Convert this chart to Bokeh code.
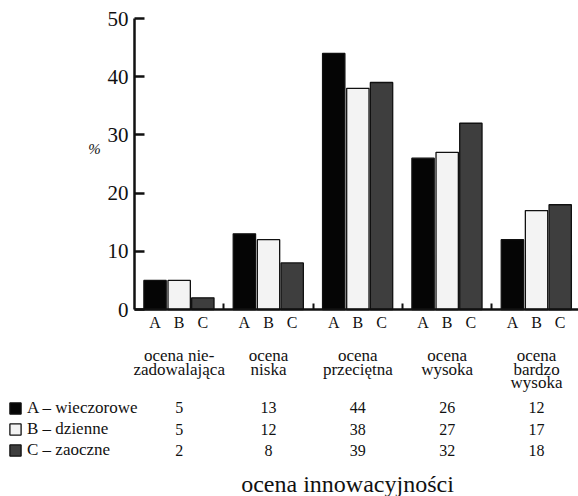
from bokeh.plotting import figure
from bokeh.models import (Range1d, FixedTicker, ColumnDataSource, LinearAxis,
                          Legend, LegendItem)
from bokeh.core.properties import value
from bokeh.embed import file_html
from bokeh.resources import INLINE

# ---- data ----
groups = ["ocena nie-\nzadowalająca", "ocena\nniska", "ocena\nprzeciętna",
          "ocena\nwysoka", "ocena\nbardzo\nwysoka"]
letters = ["A", "B", "C"]
series_names = ["A – wieczorowe", "B – dzienne", "C – zaoczne"]
wieczorowe = [5, 13, 44, 26, 12]
dzienne = [5, 12, 38, 27, 17]
zaoczne = [2, 8, 39, 32, 18]
y_ticks = [0, 10, 20, 30, 40, 50]
x_title = "ocena innowacyjności"
y_title = "%"

series = [wieczorowe, dzienne, zaoczne]
fills = ["#050505", "#f3f3f3", "#3e3e3e"]
offsets = [-0.27, 0.0, 0.265]
FNAME = "'Liberation Serif', serif"
FONT = value(FNAME)
W, H = 578, 496
X0, Y0 = 134, 309          # pixel position of the origin
PXX = 89.34                # pixels per group
PXY = 291 / 50.0           # pixels per percent

def xv(px):
    return (px - X0) / PXX

def yv(py):
    return (Y0 - py) / PXY

p = figure(width=W, height=H, x_range=Range1d(xv(0), xv(W)), y_range=Range1d(yv(H), yv(0)),
           output_backend="svg", toolbar_location=None,
           x_axis_type=None, y_axis_type=None,
           min_border_left=0, min_border_right=0, min_border_top=0, min_border_bottom=0)
p.outline_line_color = None
p.xgrid.visible = False
p.ygrid.visible = False

centers = [i + 0.5 for i in range(len(groups))]
renderers = []
for vals, fc, off in zip(series, fills, offsets):
    src = ColumnDataSource(dict(x=[c + off for c in centers], top=vals))
    r = p.vbar(x="x", top="top", width=0.25, bottom=0, source=src,
               fill_color=fc, line_color="#111111", line_width=1.3)
    renderers.append(r)

# y axis
ya = LinearAxis(fixed_location=0, bounds=(0, 50), ticker=FixedTicker(ticks=y_ticks))
ya.axis_line_width = 2.5
ya.major_tick_line_width = 2.5
ya.major_tick_in = 10
ya.major_tick_out = 0
ya.minor_tick_line_color = None
ya.major_label_text_font = FNAME
ya.major_label_text_font_size = "21px"
ya.major_label_text_color = "#111111"
ya.major_label_standoff = 6
ya.axis_line_color = "#111111"
ya.major_tick_line_color = "#111111"
p.add_layout(ya, "left")

# x axis (baseline with small separators)
xa = LinearAxis(fixed_location=0, bounds=(0, xv(W)), ticker=FixedTicker(ticks=[1, 2, 3, 4]))
xa.axis_line_width = 2.4
xa.axis_line_color = "#111111"
xa.major_tick_line_width = 2
xa.major_tick_line_color = "#111111"
xa.major_tick_in = 6
xa.major_tick_out = 0
xa.minor_tick_line_color = None
xa.major_label_text_color = None
p.add_layout(xa, "below")

# letters under bars
lx, lt = [], []
for c in centers:
    for off, l in zip(offsets, letters):
        lx.append(c + off)
        lt.append(l)
p.text(x="x", y="y", text="t",
       source=ColumnDataSource(dict(x=lx, y=[yv(322)] * len(lx), t=lt)),
       text_font=FONT, text_font_size="16px", text_align="center",
       text_baseline="middle", text_color="#111111")

# group labels (multi-line)
gx, gy, gt = [], [], []
for c, g in zip(centers, groups):
    for k, line in enumerate(g.split("\n")):
        gx.append(c)
        gy.append(yv(355 + 13.5 * k))
        gt.append(line)
p.text(x="x", y="y", text="t", source=ColumnDataSource(dict(x=gx, y=gy, t=gt)),
       text_font=FONT, text_font_size="17px", text_align="center",
       text_baseline="middle", text_color="#111111")

# table values
row_y = [407, 429, 450]
tx, ty, tt = [], [], []
for vals, ry in zip(series, row_y):
    for c, v in zip(centers, vals):
        tx.append(c)
        ty.append(yv(ry))
        tt.append(str(v))
p.text(x="x", y="y", text="t", source=ColumnDataSource(dict(x=tx, y=ty, t=tt)),
       text_font=FONT, text_font_size="16px", text_align="center",
       text_baseline="middle", text_color="#111111")

# legend
legend = Legend(items=[LegendItem(label=n, renderers=[r]) for n, r in zip(series_names, renderers)],
                location=(8, H - 460), orientation="vertical",
                glyph_width=14, glyph_height=14, label_height=14, spacing=1,
                label_standoff=5, padding=0, margin=0,
                border_line_color=None, background_fill_alpha=0,
                label_text_font=FNAME, label_text_font_size="17px",
                label_text_color="#111111", label_text_baseline="middle")
p.add_layout(legend, "center")

# axis titles
p.text(x=[xv(94)], y=[yv(148)], text=[y_title], text_font=FONT,
       text_font_size="15px", text_font_style="italic",
       text_align="center", text_baseline="middle", text_color="#111111")
p.text(x=[xv(347)], y=[yv(483)], text=[x_title], text_font=FONT,
       text_font_size="24px", text_align="center", text_baseline="middle",
       text_color="#111111")

open("out.html", "w").write(file_html(p, INLINE))
